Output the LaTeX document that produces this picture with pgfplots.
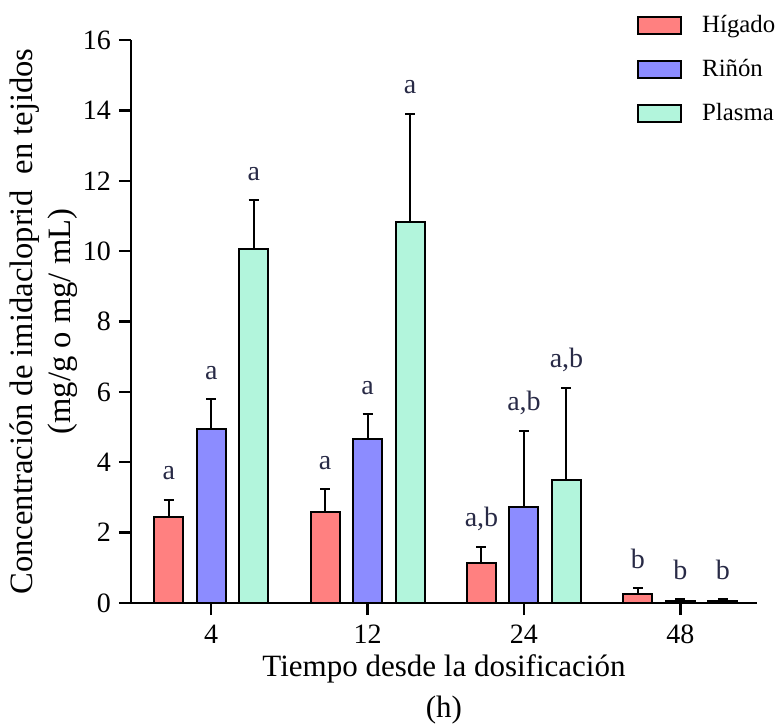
\documentclass[border=0pt]{standalone}
\usepackage{pgfplots}
\usepackage{pgfplotstable}
\pgfplotsset{compat=1.18}
\usepackage{fontspec}
\setmainfont{Liberation Serif}

\definecolor{higado}{RGB}{255,128,128}
\definecolor{rinon}{RGB}{140,140,255}
\definecolor{plasma}{RGB}{178,245,220}
\definecolor{letra}{RGB}{40,42,70}

% mean concentration, upper error (SD) and significance letters
% x: 0 = 4 h, 1 = 12 h, 2 = 24 h, 3 = 48 h
\pgfplotstableread{
x y err lab
0 2.45 0.48 a
1 2.60 0.63 a
2 1.13 0.47 {a,b}
3 0.25 0.17 b
}\higado
\pgfplotstableread{
x y err lab
0 4.94 0.85 a
1 4.66 0.71 a
2 2.72 2.17 {a,b}
3 0.07 0.04 b
}\rinon
\pgfplotstableread{
x y err lab
0 10.06 1.39 a
1 10.83 3.07 a
2 3.51 2.61 {a,b}
3 0.06 0.05 b
}\plasma

% offset of the outer bars from the group centre, in x units
\def\dx{0.2718}

\pgfplotsset{
  barra/.style={ybar, bar width=14.5pt, bar shift=0pt, draw=black, line width=1pt,
    error bars/y dir=plus, error bars/y explicit,
    error bars/error mark=-,
    error bars/error bar style={line width=1pt, black},
    error bars/error mark options={rotate=90, line width=1pt, black, mark size=2.5pt}},
  letras/.style={draw=none, no markers, forget plot,
    nodes near coords, point meta=explicit symbolic,
    nodes near coords style={anchor=base, yshift=10pt,
      font=\fontsize{14}{16}\selectfont, text=letra, inner sep=0pt}},
  caja/.style={legend image code/.code={%
    \draw[##1, line width=1pt] (0pt,-4.25pt) rectangle (21.5pt,4.25pt);
    \path (28.5pt,0pt);}},
}

\begin{document}
\begin{tikzpicture}
\begin{axis}[
  scale only axis, width=313pt, height=281.5pt,
  xmin=-0.513, xmax=3.49, ymin=0, ymax=16,
  axis x line*=bottom, axis y line*=left,
  axis line style={-, line width=1.2pt},
  xtick={0,1,2,3}, xticklabels={4,12,24,48},
  ytick={0,2,...,16},
  tick align=outside, major tick length=6pt,
  tick style={black, line width=1.2pt},
  /pgf/number format/assume math mode=true,
  ticklabel style={font=\fontsize{14}{16}\selectfont},
  xticklabel style={yshift=-1.5pt},
  yticklabel style={xshift=-0.5pt},
  xlabel={Tiempo desde la dosificación\\(h)},
  xlabel style={align=center, font=\fontsize{15.5}{20.5}\selectfont, yshift=1.5pt},
  ylabel={Concentración de imidacloprid\ \ en tejidos\\(mg/g o mg/ mL)},
  ylabel style={align=center, font=\fontsize{16.3}{19}\selectfont, yshift=-4pt},
  legend style={draw=none, fill=none, at={(rel axis cs:0.808,1.052)},
    anchor=north west, font=\fontsize{12.4}{15}\selectfont,
    row sep=8pt, inner sep=0pt,
    nodes={inner xsep=3pt}},
  legend cell align=left,
  clip=false,
]
\addplot[barra, caja, fill=higado] table[x expr=\thisrow{x}-\dx, y=y, y error=err]{\higado};
\addlegendentry{Hígado}
\addplot[barra, caja, fill=rinon] table[x=x, y=y, y error=err]{\rinon};
\addlegendentry{Riñón}
\addplot[barra, caja, fill=plasma] table[x expr=\thisrow{x}+\dx, y=y, y error=err]{\plasma};
\addlegendentry{Plasma}

\addplot[letras] table[x expr=\thisrow{x}-\dx, y expr=\thisrow{y}+\thisrow{err}, meta=lab]{\higado};
\addplot[letras] table[x=x, y expr=\thisrow{y}+\thisrow{err}, meta=lab]{\rinon};
\addplot[letras] table[x expr=\thisrow{x}+\dx, y expr=\thisrow{y}+\thisrow{err}, meta=lab]{\plasma};
\end{axis}
% page frame: axis box plus the margins taken by labels and legend
\pgfresetboundingbox
\path[use as bounding box] ([xshift=-65.5pt,yshift=-61pt]current axis.south west)
  rectangle ++(390.5pt,362.5pt);
\end{tikzpicture}
\end{document}
